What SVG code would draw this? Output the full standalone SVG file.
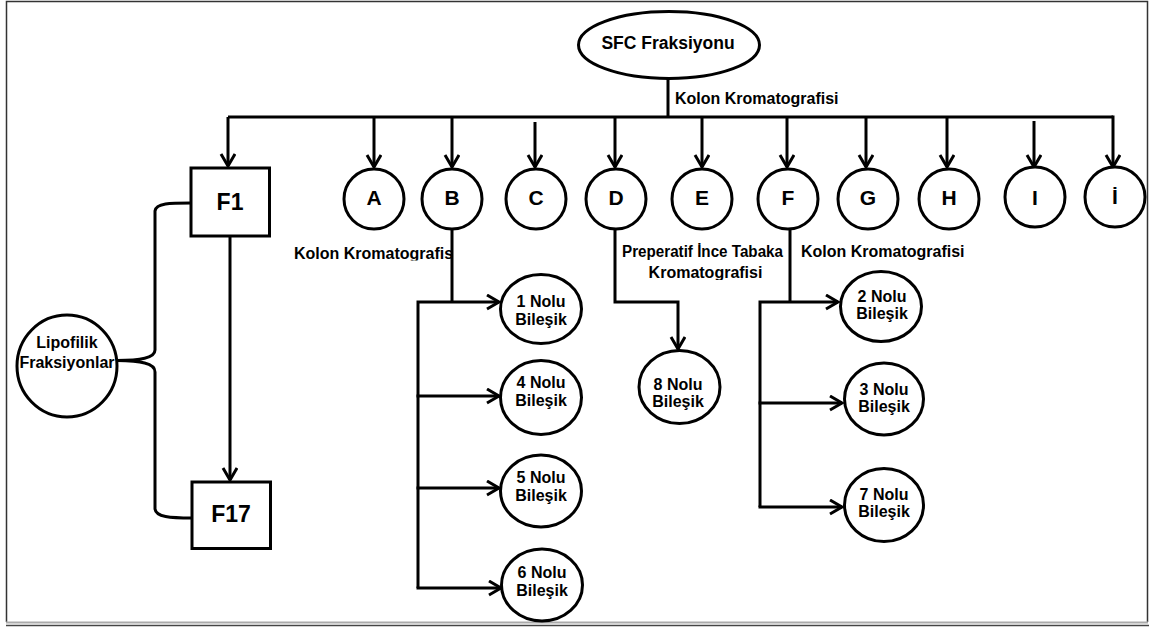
<svg xmlns="http://www.w3.org/2000/svg" width="1149" height="627" viewBox="0 0 1149 627">
<style>
.ln{fill:none;stroke:#000;stroke-width:3;stroke-linejoin:miter}
.nd{fill:#fff;stroke:#000;stroke-width:3}
.t{font-family:"Liberation Sans",Arial,Helvetica,sans-serif;font-weight:bold;fill:#000}
.s16{font-size:16px}
.ctr{text-anchor:middle}
.big{font-size:21px}
.box{font-size:23px}
</style>
<defs>
<marker id="ah" markerUnits="userSpaceOnUse" markerWidth="20" markerHeight="20" viewBox="0 0 20 20" refX="14" refY="8" orient="auto">
<path d="M2,1 L14,8 L2,15" fill="none" stroke="#000" stroke-width="3"/>
</marker>
<clipPath id="clipKB"><rect x="280" y="235" width="180" height="25.5"/></clipPath>
<clipPath id="clipPT"><rect x="610" y="235" width="180" height="45"/></clipPath>
</defs>
<rect x="0" y="0" width="1149" height="627" fill="#fff"/>
<path d="M6.5,622 V1.5 H1147.5 V622" fill="none" stroke="#333" stroke-width="1.5"/>
<line x1="6" y1="622.5" x2="1148" y2="622.5" stroke="#aaa" stroke-width="2"/>
<line x1="6" y1="625.5" x2="1149" y2="625.5" stroke="#444" stroke-width="1.5"/>

<g id="connectors">
<path class="ln" d="M668,78 V117"/>
<path class="ln" d="M228,117 H1113"/>
<path class="ln" d="M228,117 V166" marker-end="url(#ah)"/>
<path class="ln" d="M374,117 V167" marker-end="url(#ah)"/>
<path class="ln" d="M452,117 V167" marker-end="url(#ah)"/>
<path class="ln" d="M535,122 V167" marker-end="url(#ah)"/>
<path class="ln" d="M615,117 V167" marker-end="url(#ah)"/>
<path class="ln" d="M702,117 V167" marker-end="url(#ah)"/>
<path class="ln" d="M787,117 V167" marker-end="url(#ah)"/>
<path class="ln" d="M866,117 V167" marker-end="url(#ah)"/>
<path class="ln" d="M947,117 V167" marker-end="url(#ah)"/>
<path class="ln" d="M1034,121 V167" marker-end="url(#ah)"/>
<path class="ln" d="M1113,115.5 V167" marker-end="url(#ah)"/>
<path class="ln" d="M230,236 V480" marker-end="url(#ah)"/>
<path class="ln" d="M191,203 C170,203 156,203 155,211 L155,350 C155,358 140,360.5 117,360.5 C140,361 155,363 155,372 L155,509 C156,517 170,518 192,518"/>
<path class="ln" d="M452,229 V302"/>
<path class="ln" d="M418,588 V302 H499" marker-end="url(#ah)"/>
<path class="ln" d="M416.5,396 H499" marker-end="url(#ah)"/>
<path class="ln" d="M416.5,488 H499" marker-end="url(#ah)"/>
<path class="ln" d="M416.5,588 H501" marker-end="url(#ah)"/>
<path class="ln" d="M615,229 V302 H678 V349" marker-end="url(#ah)"/>
<path class="ln" d="M790,229 V302"/>
<path class="ln" d="M760,507 V302 H838" marker-end="url(#ah)"/>
<path class="ln" d="M758.5,403 H842" marker-end="url(#ah)"/>
<path class="ln" d="M758.5,507 H842" marker-end="url(#ah)"/>
</g>

<g id="labels">
<text class="t s16" x="675" y="104">Kolon Kromatografisi</text>
<text class="t s16" x="294" y="259" clip-path="url(#clipKB)">Kolon Kromatografis</text>
<g clip-path="url(#clipPT)">
<text class="t s16" x="622" y="257" textLength="161" lengthAdjust="spacingAndGlyphs">Preperatif İnce Tabaka</text>
<text class="t s16 ctr" x="705.5" y="278">Kromatografisi</text>
</g>
<text class="t s16" x="801" y="257">Kolon Kromatografisi</text>
</g>

<g id="sfc"><ellipse class="nd" cx="669" cy="45" rx="90.5" ry="33.5"/><text class="t ctr" style="font-size:17.5px" x="668" y="49">SFC Fraksiyonu</text></g>

<g id="f1"><rect class="nd" x="191" y="168" width="78.5" height="68"/><text class="t box ctr" x="230" y="210">F1</text></g>
<g id="f17"><rect class="nd" x="192" y="482" width="78.5" height="66.5"/><text class="t box ctr" x="231" y="522">F17</text></g>
<g id="lipofilik"><ellipse class="nd" cx="67" cy="366" rx="50" ry="51"/><text class="t s16 ctr" x="67" y="348">Lipofilik</text><text class="t s16 ctr" x="67" y="368">Fraksiyonlar</text></g>

<g id="nA"><circle class="nd" cx="374" cy="199" r="30"/><text class="t big ctr" x="374" y="205">A</text></g>
<g id="nB"><circle class="nd" cx="452" cy="199" r="30"/><text class="t big ctr" x="452" y="205">B</text></g>
<g id="nC"><circle class="nd" cx="536" cy="199" r="30"/><text class="t big ctr" x="536" y="205">C</text></g>
<g id="nD"><circle class="nd" cx="616" cy="199" r="30"/><text class="t big ctr" x="616" y="205">D</text></g>
<g id="nE"><circle class="nd" cx="702" cy="199" r="30"/><text class="t big ctr" x="702" y="205">E</text></g>
<g id="nF"><circle class="nd" cx="788" cy="199" r="30"/><text class="t big ctr" x="788" y="205">F</text></g>
<g id="nG"><circle class="nd" cx="868" cy="199" r="30"/><text class="t big ctr" x="868" y="205">G</text></g>
<g id="nH"><circle class="nd" cx="949" cy="199" r="30"/><text class="t big ctr" x="949" y="205">H</text></g>
<g id="nI"><circle class="nd" cx="1035" cy="197" r="30"/><text class="t big ctr" x="1035" y="205">I</text></g>
<g id="nIdot"><circle class="nd" cx="1115" cy="197" r="30"/><text class="t big ctr" x="1115" y="204">İ</text></g>

<g id="b1"><ellipse class="nd" cx="541" cy="309" rx="40.5" ry="34.5"/><text class="t s16 ctr" x="541" y="307">1 Nolu</text><text class="t s16 ctr" x="541" y="325">Bileşik</text></g>
<g id="b4"><ellipse class="nd" cx="541" cy="397.5" rx="40.5" ry="37"/><text class="t s16 ctr" x="541" y="388">4 Nolu</text><text class="t s16 ctr" x="541" y="406">Bileşik</text></g>
<g id="b5"><ellipse class="nd" cx="541" cy="491" rx="40.5" ry="36"/><text class="t s16 ctr" x="541" y="483">5 Nolu</text><text class="t s16 ctr" x="541" y="501">Bileşik</text></g>
<g id="b6"><ellipse class="nd" cx="542" cy="585" rx="40.5" ry="36"/><text class="t s16 ctr" x="542" y="578">6 Nolu</text><text class="t s16 ctr" x="542" y="596">Bileşik</text></g>
<g id="b8"><ellipse class="nd" cx="679.5" cy="387" rx="40.5" ry="36.5"/><text class="t s16 ctr" x="678" y="390">8 Nolu</text><text class="t s16 ctr" x="678" y="407">Bileşik</text></g>
<g id="b2"><ellipse class="nd" cx="881" cy="306.5" rx="40.5" ry="35"/><text class="t s16 ctr" x="882" y="302">2 Nolu</text><text class="t s16 ctr" x="882" y="319">Bileşik</text></g>
<g id="b3"><ellipse class="nd" cx="884" cy="399" rx="39.5" ry="36"/><text class="t s16 ctr" x="884" y="395">3 Nolu</text><text class="t s16 ctr" x="884" y="412">Bileşik</text></g>
<g id="b7"><ellipse class="nd" cx="884" cy="505" rx="39.5" ry="36.5"/><text class="t s16 ctr" x="884" y="500">7 Nolu</text><text class="t s16 ctr" x="884" y="517">Bileşik</text></g>
</svg>
